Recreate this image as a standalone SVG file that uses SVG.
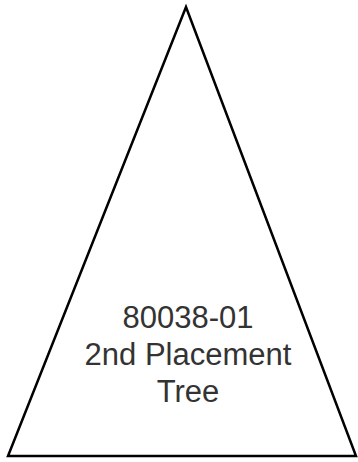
<svg xmlns="http://www.w3.org/2000/svg" width="358" height="462" viewBox="0 0 358 462">
<style>
.t{font-family:"Liberation Sans",Arial,sans-serif;font-size:31px;fill:#333;text-anchor:middle}
</style>
<rect width="358" height="462" fill="#fff"/>
<g id="tree">
<polygon points="186,7 8,456 356,456" fill="none" stroke="#000" stroke-width="2.5" stroke-linejoin="miter"/>
<text class="t" x="188" y="328">80038-01</text>
<text class="t" x="188" y="365">2nd Placement</text>
<text class="t" x="188" y="402">Tree</text>
</g>
</svg>
